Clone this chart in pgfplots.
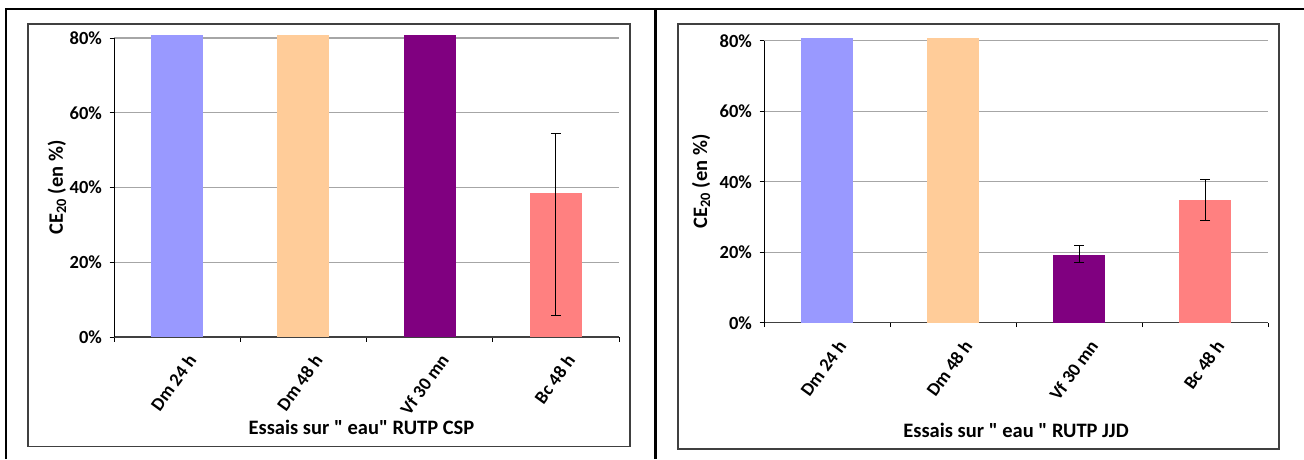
\documentclass[border=0pt]{standalone}
\usepackage{fontspec}
\setmainfont{Carlito}
\newfontfamily\qf{Carlito}
\usepackage{pgfplots}
\pgfplotsset{compat=1.18}
\definecolor{cA}{HTML}{9999FF}
\definecolor{cB}{HTML}{FFCC99}
\definecolor{cC}{HTML}{800080}
\definecolor{cD}{HTML}{FF8080}
\definecolor{gridgray}{HTML}{A6A6A6}
\definecolor{framegray}{HTML}{404040}
\newcommand{\q}{{\qf\bfseries"}}
\pgfplotsset{
  mybar/.style={
    scale only axis,
    clip=false,
    xmin=0.5, xmax=4.5, ymin=0, ymax=80,
    axis x line*=bottom, axis y line*=left,
    axis line style={-},
    x axis line style={color=framegray, line width=1.2pt},
    y axis line style={color=black, line width=1pt},
    xtick={0.5,1.5,2.5,3.5,4.5},
    xticklabels={},
    extra x ticks={1,2,3,4},
    extra x tick labels={Dm 24 h,Dm 48 h,Vf 30 mn,Bc 48 h},
    extra x tick style={major tick length=0pt,
      tick label style={rotate=54, anchor=north east, font=\bfseries\fontsize{18.5}{20}\selectfont, inner sep=0pt, yshift=-17pt, xshift=-7pt}},
    ytick={0,20,40,60,80},
    yticklabel={\pgfmathprintnumber{\tick}\%},
    /pgf/number format/assume math mode=true,
    yticklabel style={font=\bfseries\fontsize{18.5}{20}\selectfont, xshift=-4pt},
    tick align=outside,
    major tick length=4.5pt,
    tick style={black, line width=1pt},
    ymajorgrids,
    grid style={color=gridgray, line width=1.2pt},
    label style={font=\bfseries\fontsize{20.5}{22}\selectfont},
    bar width=52pt,
  },
  onebar/.style={ybar, bar shift=0pt, draw=none, fill=#1},
  errs/.style={error bars/.cd, y dir=both, y explicit,
    error bar style={black, line width=1pt},
    error mark options={rotate=90, mark size=5pt, line width=1pt, black}},
}
\begin{document}
\begin{tikzpicture}[x=1pt,y=1pt]
\path[use as bounding box] (0,0) rectangle (1304,459);
% outer frame lines
\draw[black, line width=2.5pt] (5,450) -- (1304,450);
\draw[black, line width=2pt] (6,0) -- (6,451);
\draw[black, line width=2.5pt] (655.5,0) -- (655.5,451);
% inner chart borders
\draw[framegray, line width=1.3pt] (28,12.3) rectangle (630,435);
\draw[framegray, line width=1.3pt] (678,10) rectangle (1279,435);

% left chart
\begin{axis}[mybar, at={(114pt,122pt)}, anchor=south west, width=505pt, height=299pt,
  xlabel={Essais sur \q{} eau\q{} RUTP CSP},
  xlabel style={at={(axis description cs:0.49,-0.3244)}, anchor=base},
  ylabel={CE\textsubscript{20} (en \%)},
  ylabel style={at={(axis description cs:-0.113,0.5)}, anchor=center, rotate=0},
]
\addplot[onebar=cA] coordinates {(1,80.8)};
\addplot[onebar=cB] coordinates {(2,80.8)};
\addplot[onebar=cC] coordinates {(3,80.8)};
\addplot[onebar=cD, errs] coordinates {(4,38.5) += (0,15.9) -= (0,32.7)};
\end{axis}

% right chart
\begin{axis}[mybar, at={(764pt,136.3pt)}, anchor=south west, width=504pt, height=282pt,
  xlabel={Essais sur \q{} eau \q{} RUTP JJD},
  xlabel style={at={(axis description cs:0.5,-0.4053)}, anchor=base},
  ylabel={CE\textsubscript{20} (en \%)},
  ylabel style={at={(axis description cs:-0.125,0.5)}, anchor=center, rotate=0},
]
\addplot[onebar=cA] coordinates {(1,80.8)};
\addplot[onebar=cB] coordinates {(2,80.8)};
\addplot[onebar=cC, errs] coordinates {(3,19.2) += (0,2.8) -= (0,2.2)};
\addplot[onebar=cD, errs] coordinates {(4,34.8) += (0,5.8) -= (0,5.9)};
\end{axis}
\end{tikzpicture}
\end{document}
